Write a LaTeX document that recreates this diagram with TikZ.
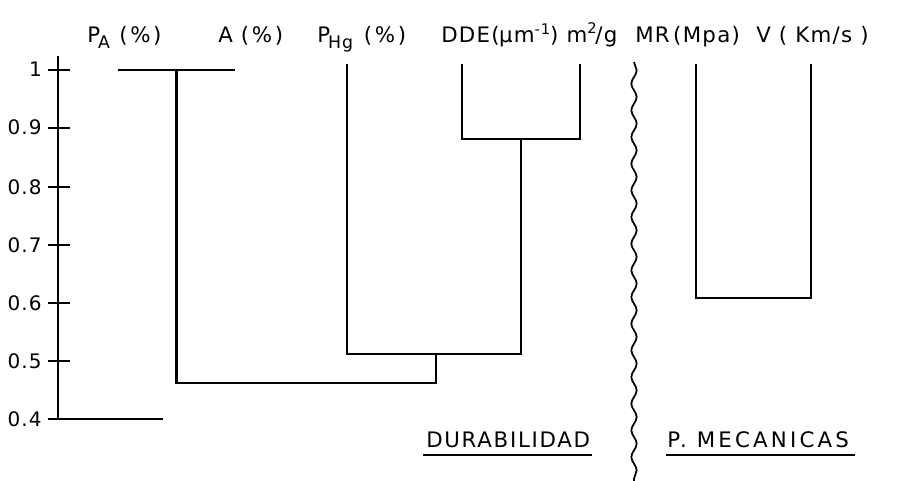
\documentclass[tikz,border=0pt]{standalone}
\usepackage{fontspec}
\setmainfont{DejaVu Sans}[LetterSpace=6]
\usetikzlibrary{decorations.pathmorphing}
\begin{document}
\begin{tikzpicture}[x=0.75pt,y=-0.75pt,
  link/.style={line width=1.7pt,line cap=rect},
  tick/.style={line width=1.5pt},
  axl/.style={inner sep=0pt,anchor=base east,font=\fontsize{15}{17}\selectfont},
  ttl/.style={inner sep=0pt,anchor=base west,font=\fontsize{16}{18}\selectfont},
  uline/.style={line width=1.4pt}]
\useasboundingbox (0,0) rectangle (898,481);
% axis
\coordinate (axtop) at (58,56);
\coordinate (axbot) at (58,419);
\draw[tick] (axtop) -- (axbot);
\foreach \v/\y in {1/70,0.9/128,0.8/187,0.7/245,0.6/303,0.5/361}{
  \draw[tick] (48,\y) -- (70,\y);
  \node[axl] (ax\y) at (42,\y+7) {\v};
}
\coordinate (base0) at (48,419);
\coordinate (base1) at (163,419);
\draw[tick] (base0) -- (base1);
\node[axl] (ax419) at (42,426) {0.4};
% top labels
\node[ttl] (lPA) at (87,43) {P\kern-1.5pt\raisebox{-0.5ex}{\fontsize{13}{13}\selectfont A}\kern7pt(\kern2pt\%\kern2pt)};
\node[ttl] (lA) at (218,43) {A\ (\kern2pt\%\kern2pt)};
\node[ttl] (lPH) at (317,43) {P\kern-1.5pt\raisebox{-0.5ex}{\fontsize{13}{13}\selectfont Hg}\kern8pt(\kern2pt\%\kern2pt)};
\node[ttl] (lDDE) at (441,43) {DDE(\kern-0.5pt μm\raisebox{0.75ex}{\fontsize{11}{11}\selectfont -1}) m\raisebox{0.8ex}{\fontsize{11}{11}\selectfont 2}\kern-1pt/g};
\node[ttl] (lMR) at (635,43) {MR\kern2.5pt(\kern1pt Mpa)};
\node[ttl] (lV) at (756,43) {V\ (\ Km/s\ )};
% leaves
\coordinate (a1) at (119,70); \coordinate (a2) at (234,70);
\coordinate (a3) at (176.5,70); \coordinate (a4) at (176.5,383);
\coordinate (h1) at (347,65); \coordinate (h2) at (347,354);
\coordinate (d1) at (462,65); \coordinate (d2) at (462,139);
\coordinate (m1) at (580,65); \coordinate (m2) at (580,139);
\coordinate (dm) at (521,139); \coordinate (dm2) at (521,354);
\coordinate (j1) at (436,354); \coordinate (j2) at (436,383);
\coordinate (r1) at (696,65); \coordinate (r2) at (696,298);
\coordinate (v1) at (811,65); \coordinate (v2) at (811,298);
\draw[link] (a1) -- (a2);
\draw[link] (a3) -- (a4) -- (j2) -- (j1);
\draw[link] (h1) -- (h2) -- (dm2) -- (dm);
\draw[link] (d1) -- (d2) -- (m2) -- (m1);
\draw[link] (r1) -- (r2) -- (v2) -- (v1);
% separator
\coordinate (w1) at (634,62); \coordinate (w2) at (634,481);
\draw[line width=1.3pt,decorate,decoration={snake,segment length=20,amplitude=2}] (w1) -- (w2);
% bottom labels
\node[ttl] (ldur) at (426,447) {\addfontfeature{LetterSpace=8}DURABILIDAD};
\node[ttl] (lmec) at (667,447) {\addfontfeature{LetterSpace=15}P.\ MECANICAS};
\coordinate (u1) at (423,455); \coordinate (u2) at (592,455);
\coordinate (u3) at (666,455); \coordinate (u4) at (855,455);
\draw[uline] (u1) -- (u2);
\draw[uline] (u3) -- (u4);
\end{tikzpicture}
\end{document}
